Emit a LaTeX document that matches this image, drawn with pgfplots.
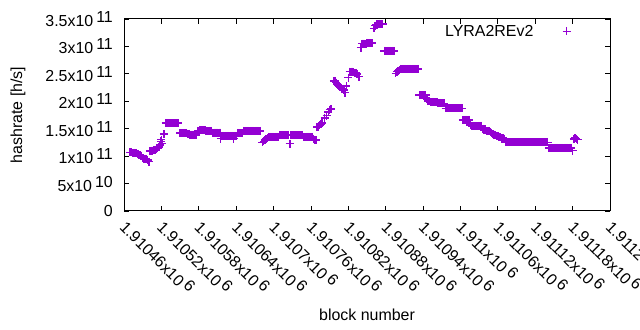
\documentclass[border=0pt]{standalone}
\usepackage{fontspec}
\setmainfont{Liberation Sans}
\usepackage{pgfplots}
\pgfplotsset{compat=1.18}
\usepackage{pgfplotstable}
\definecolor{gpviolet}{RGB}{148,0,211}
\newcommand{\sx}[2]{#1x10\hspace{3bp}\raisebox{4bp}{#2}}

% b = block number - 1910000, h = hashrate [h/s]
\pgfplotstableread[row sep=\\]{
b h\\
470 1.07e11\\ 472 1.07e11\\ 474 1.06e11\\ 476 1.06e11\\ 478 1.05e11\\ 480 1.05e11\\ 482 1.04e11\\
484 1.02e11\\ 486 1.02e11\\ 488 1.01e11\\
490 0.96e11\\ 492 0.95e11\\ 494 0.95e11\\ 496 0.94e11\\ 498 0.93e11\\ 500 0.90e11\\
502 1.09e11\\ 504 1.10e11\\ 506 1.10e11\\ 508 1.11e11\\ 510 1.12e11\\ 512 1.13e11\\ 514 1.14e11\\
516 1.17e11\\ 518 1.20e11\\ 519 1.27e11\\ 520 1.30e11\\ 521 1.23e11\\ 524 1.40e11\\
527 1.60e11\\ 529 1.60e11\\ 531 1.60e11\\ 533 1.60e11\\ 535 1.60e11\\ 537 1.60e11\\ 539 1.60e11\\ 541 1.60e11\\ 543 1.60e11\\ 545 1.60e11\\ 547 1.60e11\\
550 1.42e11\\ 552 1.42e11\\ 554 1.42e11\\ 556 1.42e11\\ 558 1.42e11\\ 560 1.42e11\\ 562 1.41e11\\ 564 1.41e11\\
566 1.39e11\\ 568 1.39e11\\ 570 1.39e11\\ 572 1.39e11\\ 574 1.39e11\\ 576 1.39e11\\
578 1.46e11\\ 580 1.46e11\\ 582 1.47e11\\ 584 1.47e11\\ 586 1.47e11\\ 588 1.47e11\\ 590 1.47e11\\ 592 1.46e11\\ 594 1.46e11\\ 596 1.46e11\\ 598 1.46e11\\ 600 1.46e11\\
602 1.43e11\\ 604 1.43e11\\ 606 1.43e11\\ 608 1.43e11\\ 610 1.43e11\\ 612 1.43e11\\ 614 1.43e11\\
615 1.32e11\\ 616 1.37e11\\ 618 1.37e11\\ 620 1.37e11\\ 622 1.37e11\\ 624 1.37e11\\ 626 1.37e11\\ 628 1.37e11\\ 630 1.37e11\\ 632 1.37e11\\ 634 1.37e11\\ 636 1.32e11\\ 637 1.37e11\\ 638 1.37e11\\ 640 1.37e11\\
642 1.42e11\\ 644 1.42e11\\ 646 1.42e11\\ 648 1.42e11\\ 650 1.42e11\\
652 1.46e11\\ 654 1.46e11\\ 656 1.46e11\\ 658 1.46e11\\ 660 1.46e11\\ 662 1.46e11\\ 664 1.46e11\\ 666 1.46e11\\ 668 1.46e11\\ 670 1.46e11\\ 672 1.46e11\\ 674 1.46e11\\ 676 1.46e11\\ 678 1.46e11\\
682 1.25e11\\ 684 1.27e11\\ 686 1.29e11\\ 688 1.31e11\\ 690 1.33e11\\
692 1.35e11\\ 694 1.35e11\\ 696 1.35e11\\ 698 1.35e11\\ 700 1.35e11\\ 702 1.35e11\\ 704 1.35e11\\ 706 1.35e11\\ 708 1.35e11\\
710 1.38e11\\ 712 1.38e11\\ 714 1.38e11\\ 716 1.38e11\\ 718 1.38e11\\ 720 1.38e11\\ 722 1.38e11\\ 724 1.38e11\\ 726 1.23e11\\ 727 1.38e11\\ 728 1.38e11\\ 730 1.38e11\\ 732 1.38e11\\ 734 1.38e11\\ 736 1.38e11\\ 738 1.38e11\\ 740 1.38e11\\ 742 1.38e11\\ 744 1.38e11\\ 746 1.38e11\\
748 1.35e11\\ 750 1.35e11\\ 752 1.35e11\\ 754 1.35e11\\ 756 1.35e11\\ 758 1.35e11\\ 760 1.35e11\\ 762 1.35e11\\ 764 1.32e11\\ 766 1.30e11\\ 768 1.29e11\\
770 1.53e11\\ 772 1.54e11\\ 774 1.56e11\\ 776 1.58e11\\ 778 1.60e11\\
782 1.70e11\\ 785 1.74e11\\ 788 1.80e11\\ 790 1.85e11\\ 792 1.86e11\\
797 2.37e11\\ 799 2.37e11\\ 801 2.34e11\\ 803 2.30e11\\ 805 2.28e11\\ 807 2.26e11\\ 809 2.25e11\\ 811 2.23e11\\ 813 2.21e11\\ 815 2.16e11\\ 817 2.28e11\\
820 2.43e11\\ 822 2.54e11\\ 824 2.54e11\\ 826 2.54e11\\ 828 2.53e11\\ 830 2.52e11\\ 832 2.52e11\\ 834 2.50e11\\ 837 2.45e11\\
840 2.98e11\\ 842 3.05e11\\ 844 3.05e11\\ 846 3.05e11\\ 848 3.05e11\\ 850 3.06e11\\ 852 3.06e11\\ 854 3.06e11\\ 856 3.06e11\\ 858 3.06e11\\
861 3.33e11\\ 863 3.38e11\\ 865 3.40e11\\ 867 3.40e11\\ 869 3.41e11\\ 871 3.41e11\\ 873 3.41e11\\ 875 3.41e11\\
878 2.92e11\\ 880 2.92e11\\ 882 2.92e11\\ 884 2.92e11\\ 886 2.92e11\\ 888 2.92e11\\ 890 2.92e11\\ 892 2.92e11\\ 894 2.92e11\\
896 2.51e11\\ 898 2.54e11\\ 900 2.56e11\\ 902 2.57e11\\ 904 2.59e11\\ 906 2.59e11\\ 908 2.59e11\\ 910 2.59e11\\ 912 2.59e11\\ 914 2.59e11\\ 916 2.59e11\\ 918 2.59e11\\ 920 2.59e11\\ 922 2.59e11\\ 924 2.59e11\\ 926 2.59e11\\ 928 2.59e11\\ 930 2.59e11\\ 932 2.59e11\\
934 2.11e11\\ 936 2.11e11\\ 938 2.11e11\\ 940 2.11e11\\ 942 2.11e11\\ 944 2.11e11\\
946 2.04e11\\ 948 2.01e11\\ 950 2.00e11\\ 952 1.99e11\\ 954 1.99e11\\ 956 1.99e11\\ 958 1.98e11\\ 960 1.98e11\\ 962 1.98e11\\ 964 1.97e11\\ 966 1.97e11\\ 968 1.97e11\\ 970 1.96e11\\ 972 1.96e11\\ 974 1.96e11\\
976 1.87e11\\ 978 1.87e11\\ 980 1.87e11\\ 982 1.87e11\\ 984 1.87e11\\ 986 1.87e11\\ 988 1.87e11\\ 990 1.87e11\\ 992 1.87e11\\ 994 1.87e11\\ 996 1.87e11\\ 998 1.87e11\\ 1000 1.87e11\\ 1002 1.87e11\\
1004 1.66e11\\ 1006 1.66e11\\ 1008 1.66e11\\ 1010 1.66e11\\ 1012 1.66e11\\ 1014 1.66e11\\
1016 1.57e11\\ 1018 1.55e11\\ 1020 1.55e11\\ 1022 1.55e11\\ 1024 1.55e11\\ 1026 1.55e11\\ 1028 1.55e11\\ 1030 1.55e11\\ 1032 1.55e11\\ 1034 1.55e11\\
1036 1.50e11\\ 1038 1.48e11\\ 1040 1.47e11\\ 1042 1.46e11\\ 1044 1.46e11\\ 1046 1.45e11\\ 1048 1.44e11\\ 1050 1.43e11\\
1052 1.40e11\\ 1054 1.39e11\\ 1056 1.38e11\\ 1058 1.37e11\\ 1060 1.36e11\\ 1062 1.35e11\\ 1064 1.34e11\\ 1066 1.33e11\\ 1068 1.33e11\\ 1070 1.32e11\\
1072 1.25e11\\ 1074 1.25e11\\ 1076 1.25e11\\ 1078 1.25e11\\ 1080 1.25e11\\ 1082 1.25e11\\ 1084 1.25e11\\ 1086 1.25e11\\ 1088 1.25e11\\ 1090 1.25e11\\ 1092 1.25e11\\ 1094 1.25e11\\
1096 1.25e11\\ 1098 1.25e11\\ 1100 1.25e11\\ 1102 1.25e11\\ 1104 1.25e11\\ 1106 1.25e11\\ 1108 1.25e11\\ 1110 1.25e11\\ 1112 1.25e11\\ 1114 1.25e11\\ 1116 1.25e11\\ 1118 1.25e11\\
1120 1.25e11\\ 1122 1.25e11\\ 1124 1.25e11\\ 1126 1.25e11\\ 1128 1.25e11\\ 1130 1.25e11\\ 1132 1.25e11\\ 1134 1.25e11\\ 1136 1.25e11\\ 1138 1.25e11\\ 1140 1.25e11\\
1142 1.15e11\\ 1144 1.15e11\\ 1146 1.15e11\\ 1148 1.15e11\\ 1150 1.15e11\\ 1152 1.15e11\\ 1154 1.15e11\\ 1156 1.15e11\\ 1158 1.15e11\\ 1160 1.15e11\\
1162 1.15e11\\ 1164 1.15e11\\ 1166 1.15e11\\ 1168 1.15e11\\ 1170 1.15e11\\ 1172 1.15e11\\ 1174 1.15e11\\ 1176 1.15e11\\ 1178 1.15e11\\ 1180 1.10e11\\
1182 1.31e11\\ 1184 1.33e11\\ 1186 1.32e11\\ 1188 1.30e11\\
}\datatable

\begin{document}
\begin{tikzpicture}[font=\fontsize{16}{19}\selectfont]
\path[use as bounding box] (0,0) rectangle (640bp,330bp);
\begin{axis}[
  at={(124bp,119bp)}, anchor=south west,
  width=486bp, height=192bp, scale only axis,
  xmin=460, xmax=1240, ymin=0, ymax=3.5e11,
  xtick={460,520,580,640,700,760,820,880,940,1000,1060,1120,1180,1240},
  xticklabels={\sx{1.91046}{6},\sx{1.91052}{6},\sx{1.91058}{6},\sx{1.91064}{6},\sx{1.9107}{6},\sx{1.91076}{6},\sx{1.91082}{6},\sx{1.91088}{6},\sx{1.91094}{6},\sx{1.911}{6},\sx{1.91106}{6},\sx{1.91112}{6},\sx{1.91118}{6},\sx{1.91124}{6}},
  ytick={0,5e10,1e11,1.5e11,2e11,2.5e11,3e11,3.5e11},
  yticklabels={0,\sx{5}{10},\sx{1}{11},\sx{1.5}{11},\sx{2}{11},\sx{2.5}{11},\sx{3}{11},\sx{3.5}{11}},
  scaled ticks=false,
  tick align=inside,
  major tick length=5bp,
  tick style={black, line width=0.8bp},
  axis line style={black, line width=1bp},
  xticklabel style={xshift=0bp, yshift=-12bp, rotate=-45, anchor=west, inner sep=0pt},
  yticklabel style={anchor=east, inner sep=0pt, xshift=-11bp},
  xlabel={block number},
  ylabel={hashrate [h/s]},
  xlabel style={at={(axis description cs:0.5,0)}, anchor=center, yshift=-104bp},
  ylabel style={at={(axis description cs:0,0.5)}, anchor=center, yshift=106bp},
  legend plot pos=right,
  legend cell align=right,
  legend style={draw=none, fill=none, at={(axis description cs:1,1)}, anchor=north east, xshift=-36bp, yshift=-2bp},
]
\addplot[only marks, mark=+, color=gpviolet, mark size=4bp, line width=1.6bp, mark options={draw=gpviolet, solid},
  legend image code/.code={\path[draw=none, fill=none] (0cm,-1pt) rectangle (1.25cm,1pt); \draw[##1] plot coordinates {(1.1cm,0cm)};}] table[x=b,y=h]{\datatable};
\addlegendentry{LYRA2REv2}
\end{axis}
\end{tikzpicture}
\end{document}
